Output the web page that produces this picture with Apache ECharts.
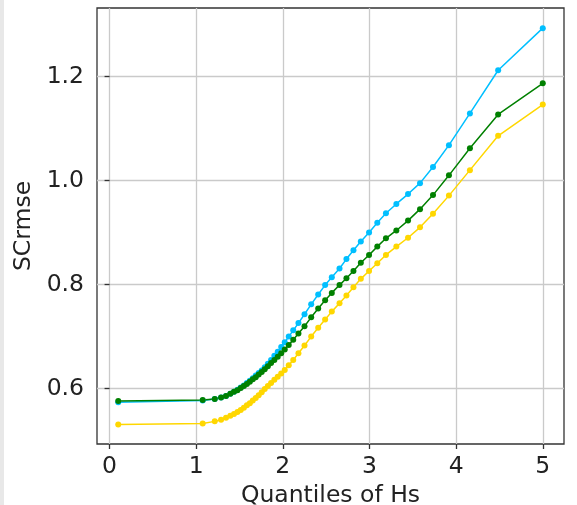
<!DOCTYPE html>
<html>
<head>
<meta charset="utf-8">
<script src="https://cdn.jsdelivr.net/npm/echarts@6/dist/echarts.min.js"></script>
<style>
html,body{margin:0;padding:0;background:#fff;}
#chart{width:577px;height:505px;}
</style>
</head>
<body>
<div id="chart"></div>
<script>
// Quantiles of Hs (x positions shared by all series)
const quantiles = [0.1, 1.075, 1.214, 1.287, 1.344, 1.394, 1.436, 1.476, 1.514, 1.550, 1.585, 1.619, 1.653, 1.687, 1.721, 1.756, 1.791, 1.827, 1.864, 1.902, 1.941, 1.981, 2.022, 2.068, 2.12, 2.18, 2.25, 2.327, 2.408, 2.488, 2.565, 2.654, 2.734, 2.815, 2.90, 2.995, 3.09, 3.19, 3.31, 3.445, 3.583, 3.733, 3.917, 4.159, 4.485, 5.0];

const blueValues = [0.574, 0.577, 0.580, 0.583, 0.586, 0.590, 0.594, 0.598, 0.602, 0.606, 0.611, 0.615, 0.620, 0.625, 0.630, 0.635, 0.641, 0.648, 0.655, 0.663, 0.671, 0.680, 0.689, 0.700, 0.712, 0.726, 0.743, 0.762, 0.781, 0.799, 0.814, 0.831, 0.849, 0.866, 0.883, 0.900, 0.919, 0.937, 0.955, 0.974, 0.995, 1.026, 1.068, 1.129, 1.212, 1.293];

const yellowValues = [0.531, 0.533, 0.537, 0.540, 0.544, 0.548, 0.551, 0.555, 0.559, 0.563, 0.568, 0.572, 0.577, 0.582, 0.587, 0.593, 0.599, 0.605, 0.611, 0.617, 0.623, 0.629, 0.636, 0.645, 0.655, 0.668, 0.683, 0.700, 0.717, 0.733, 0.748, 0.764, 0.779, 0.795, 0.811, 0.826, 0.841, 0.857, 0.873, 0.890, 0.910, 0.936, 0.971, 1.020, 1.086, 1.146];

const greenValues = [0.576, 0.578, 0.580, 0.583, 0.586, 0.590, 0.594, 0.597, 0.601, 0.605, 0.609, 0.613, 0.618, 0.622, 0.627, 0.632, 0.637, 0.643, 0.649, 0.655, 0.661, 0.668, 0.675, 0.684, 0.694, 0.706, 0.720, 0.737, 0.754, 0.770, 0.784, 0.799, 0.812, 0.826, 0.842, 0.857, 0.873, 0.889, 0.904, 0.923, 0.945, 0.972, 1.010, 1.062, 1.127, 1.187];

const xTicks = [0, 1, 2, 3, 4, 5];
const yTicks = [0.6, 0.8, 1.0, 1.2];
const xTitle = 'Quantiles of Hs';
const yTitle = 'SCrmse';

function pairs(vals) { return quantiles.map((q, i) => [q, vals[i]]); }

const font = 'DejaVu Sans';
const textColor = '#222222';
const gridColor = '#cacaca';
const frameColor = '#333333';

const chart = echarts.init(document.getElementById('chart'), null, {renderer: 'canvas'});

function mkSeries(name, vals, color) {
  return {
    name: name, type: 'line', data: pairs(vals),
    symbol: 'circle', symbolSize: 6, showSymbol: true,
    lineStyle: {color: color, width: 1.5},
    itemStyle: {color: color},
    emphasis: {disabled: true},
    animation: false
  };
}

chart.setOption({
  animation: false,
  backgroundColor: '#ffffff',
  graphic: [{
    type: 'rect', left: 0, top: 0, z: -10,
    shape: {width: 4, height: 505},
    style: {fill: '#e8e8e8'}
  }],
  grid: {
    left: 97, top: 8, right: 13, bottom: 61,
    outerBoundsMode: 'none', containLabel: false,
    show: true, borderColor: frameColor, borderWidth: 1.3, backgroundColor: 'transparent'
  },
  xAxis: {
    type: 'value', min: -0.145, max: 5.245,
    name: xTitle, nameLocation: 'middle', nameGap: 36,
    nameTextStyle: {fontFamily: font, fontSize: 23.5, color: textColor},
    axisLine: {show: false},
    axisTick: {show: true, customValues: xTicks, length: 5, lineStyle: {color: frameColor, width: 1.3}},
    axisLabel: {customValues: xTicks, fontFamily: font, fontSize: 23.5, color: textColor, margin: 11,
      formatter: v => String(v)},
    splitLine: {show: true, lineStyle: {color: gridColor, width: 1.3}}
  },
  yAxis: {
    type: 'value', min: 0.4935, max: 1.3317,
    name: yTitle, nameLocation: 'middle', nameGap: 58, nameRotate: 90,
    nameTextStyle: {fontFamily: font, fontSize: 23.5, color: textColor},
    axisLine: {show: false},
    axisTick: {show: true, customValues: yTicks, length: 5, lineStyle: {color: frameColor, width: 1.3}},
    axisLabel: {customValues: yTicks, fontFamily: font, fontSize: 23.5, color: textColor, margin: 13,
      formatter: v => v.toFixed(1)},
    splitLine: {show: true, lineStyle: {color: gridColor, width: 1.3}}
  },
  series: [
    mkSeries('blue', blueValues, '#00bfff'),
    mkSeries('gold', yellowValues, '#ffd700'),
    mkSeries('green', greenValues, '#008000')
  ]
});
</script>
</body>
</html>
